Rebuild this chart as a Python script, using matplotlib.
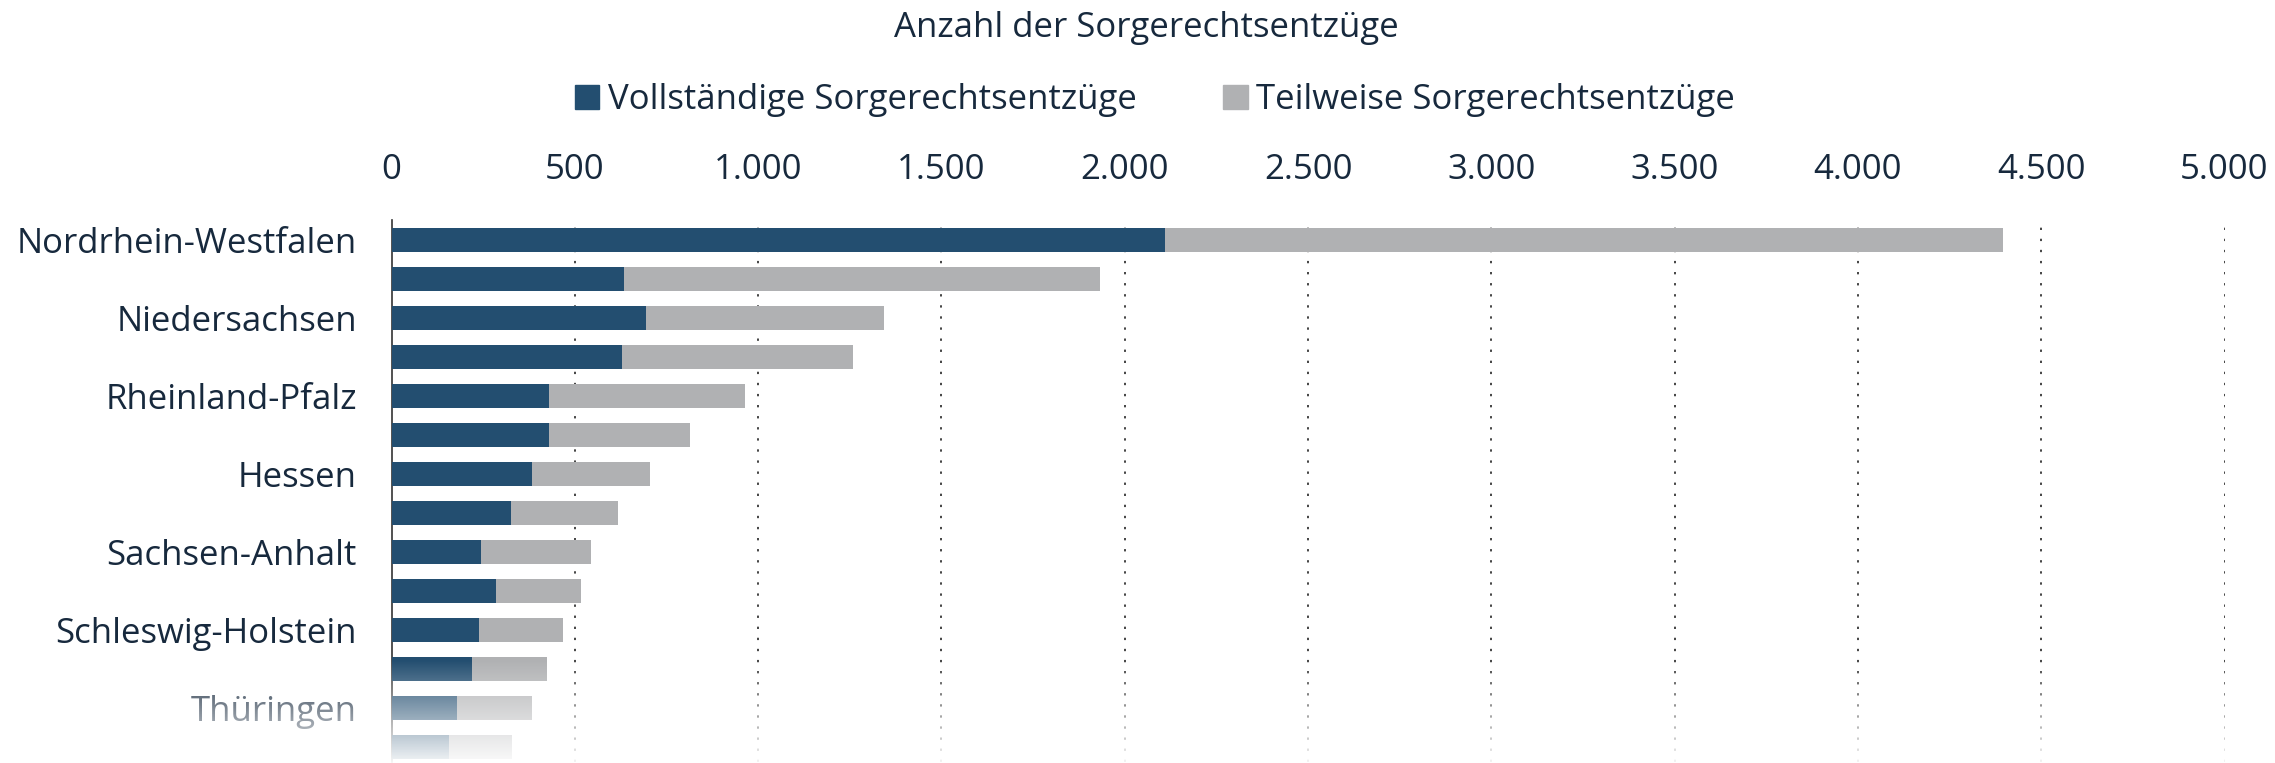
import numpy as np
import matplotlib
matplotlib.use("Agg")
import matplotlib.pyplot as plt
from matplotlib.patches import Patch

plt.rcParams['font.family'] = ['Open Sans', 'DejaVu Sans']

# Data
states = ['Nordrhein-Westfalen', 'Bayern', 'Niedersachsen', 'Baden-Württemberg',
          'Rheinland-Pfalz', 'Berlin', 'Hessen', 'Sachsen', 'Sachsen-Anhalt',
          'Brandenburg', 'Schleswig-Holstein', 'Mecklenburg-Vorpommern',
          'Thüringen', 'Hamburg']
full = [2111, 635, 694, 629, 429, 429, 383, 326, 245, 285, 239, 220, 180, 157]
total = [4396, 1933, 1343, 1259, 963, 815, 706, 617, 544, 516, 468, 425, 383, 329]
partial = [t - f for t, f in zip(total, full)]
ticks = [0, 500, 1000, 1500, 2000, 2500, 3000, 3500, 4000, 4500, 5000]
tick_labels = ['0', '500', '1.000', '1.500', '2.000', '2.500', '3.000',
               '3.500', '4.000', '4.500', '5.000']

blue = '#234e70'
grey = '#b0b1b3'
text_col = '#17293d'
fs = 25

W, H = 2275, 763
fig = plt.figure(figsize=(W / 100, H / 100), dpi=100)
ax = fig.add_axes([391.5 / W, 1 - 762 / H, (2224.5 - 391.5) / W, (762 - 220) / H])

y = np.arange(len(states))
ax.barh(y, full, height=0.6, color=blue, zorder=3)
ax.barh(y, partial, left=full, height=0.6, color=grey, zorder=3)

ax.set_xlim(0, 5000)
ax.set_ylim(13.385, -0.513)
ax.xaxis.tick_top()
ax.set_xticks(ticks)
ax.set_xticklabels(tick_labels, fontsize=fs, color=text_col)
ax.set_yticks(y)
ax.set_yticklabels([s if i % 2 == 0 else '' for i, s in enumerate(states)],
                   fontsize=fs, color=text_col)
ax.tick_params(axis='both', length=0)
ax.tick_params(axis='y', pad=25)
ax.tick_params(axis='x', pad=24)

for s in ['top', 'right', 'bottom']:
    ax.spines[s].set_visible(False)
ax.spines['left'].set_color('#333333')
ax.spines['left'].set_linewidth(1.2)

for t in ticks[1:]:
    ax.axvline(t, color='#444444', linewidth=1.4, linestyle=(0, (1.2, 4.5)), zorder=1)

# title and legend
fig.text(1146 / W, 1 - 28 / H, 'Anzahl der Sorgerechtsentzüge', ha='center', va='center',
         fontsize=fs, color=text_col)
handles = [Patch(color=blue, label='Vollständige Sorgerechtsentzüge'),
           Patch(color=grey, label='Teilweise Sorgerechtsentzüge')]
leg = fig.legend(handles=handles, loc='center', bbox_to_anchor=(1155 / W, 1 - 100 / H),
                 ncol=2, frameon=False, fontsize=fs, handlelength=0.7, handleheight=0.7,
                 handletextpad=0.25, columnspacing=2.5)
for txt in leg.get_texts():
    txt.set_color(text_col)

# white fade at the bottom
fade_top = 660
fax = fig.add_axes([0, 0, 1, (H - fade_top) / H], zorder=10)
grad = np.linspace(0, 0.95, 200).reshape(-1, 1)
img = np.ones((200, 1, 4))
img[:, :, 3] = grad
fax.imshow(img, aspect='auto', origin='upper', extent=[0, 1, 1, 0])
fax.axis('off')

fig.savefig('out.png', dpi=100)
